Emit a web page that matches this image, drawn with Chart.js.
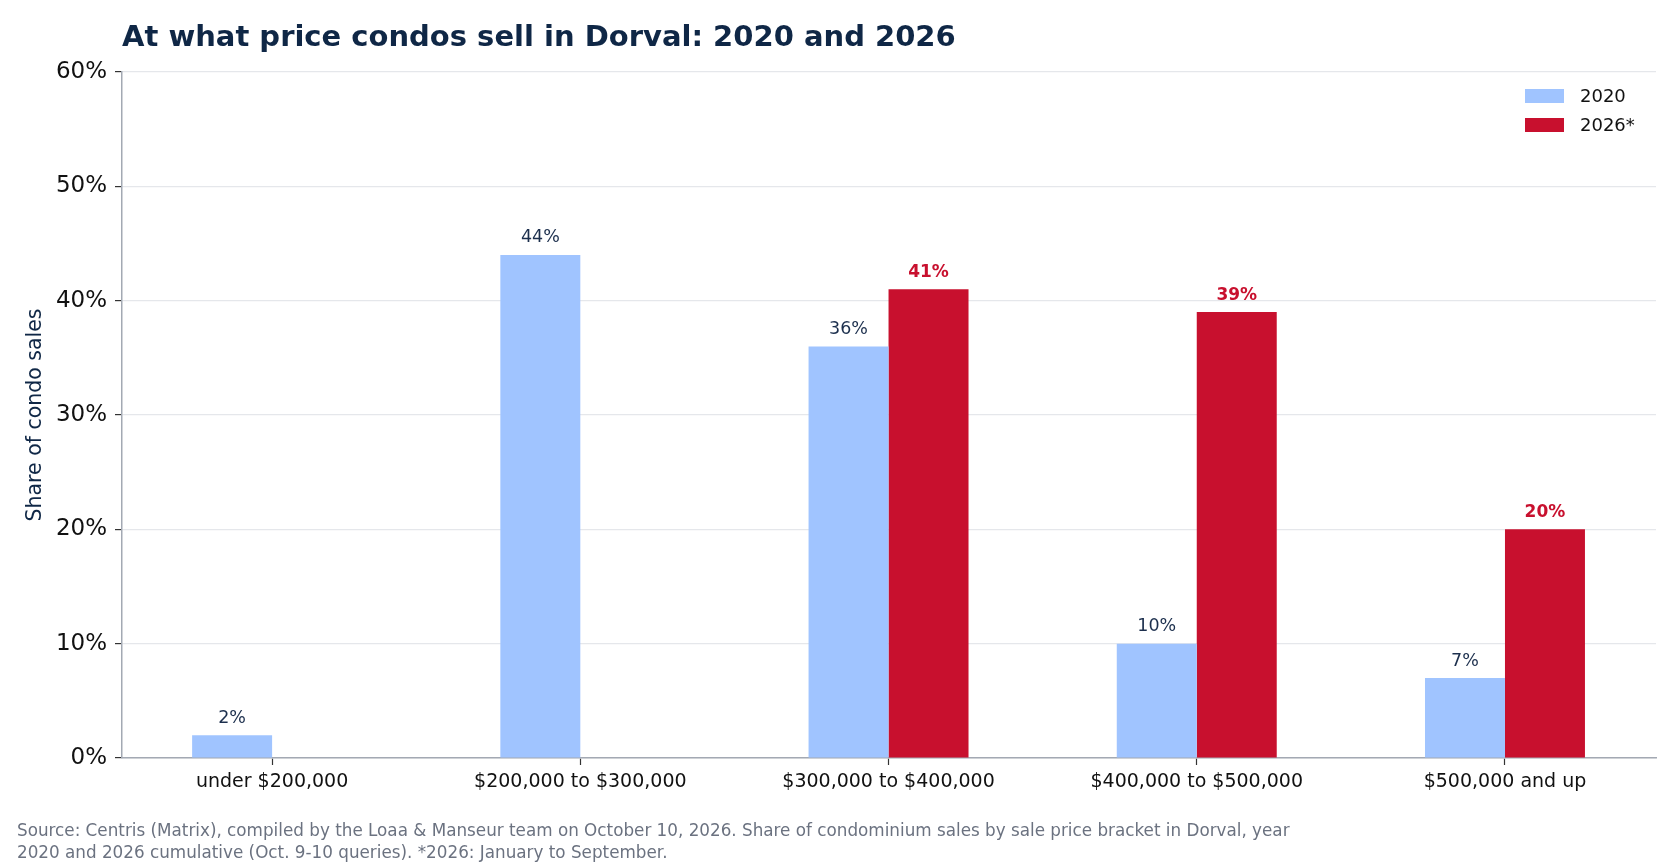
<!DOCTYPE html>
<html>
<head>
<meta charset="utf-8">
<script src="https://cdn.jsdelivr.net/npm/chart.js@4.4.1/dist/chart.umd.min.js"></script>
<style>
html,body{margin:0;padding:0;background:#fff;}
#wrap{width:1680px;height:868px;position:relative;}
</style>
</head>
<body>
<div id="wrap"><canvas id="c" width="1680" height="868"></canvas></div>
<script>
const categories = ["under $200,000", "$200,000 to $300,000", "$300,000 to $400,000", "$400,000 to $500,000", "$500,000 and up"];
const values2020 = [2, 44, 36, 10, 7];
const values2026 = [null, null, 41, 39, 20];
const seriesLabels = ["2020", "2026*"];
const yTicks = [0, 10, 20, 30, 40, 50, 60];
const titleText = "At what price condos sell in Dorval: 2020 and 2026";
const yTitle = "Share of condo sales";
const footerLines = [
  "Source: Centris (Matrix), compiled by the Loaa & Manseur team on October 10, 2026. Share of condominium sales by sale price bracket in Dorval, year",
  "2020 and 2026 cumulative (Oct. 9-10 queries). *2026: January to September."
];

const C2020 = "#a0c4ff";
const C2026 = "#c8102e";
const NAVY = "#0f2746";
const FONT = "'DejaVu Sans', sans-serif";

const toPoints = arr => arr.map((v, i) => ({ x: i, y: v }));

const decor = {
  id: "decor",
  afterDatasetsDraw(chart) {
    const ctx = chart.ctx;
    chart.data.datasets.forEach((ds, di) => {
      const meta = chart.getDatasetMeta(di);
      meta.data.forEach((bar, i) => {
        const v = ds.data[i].y;
        if (v === null || v === undefined) return;
        ctx.save();
        ctx.textAlign = "center";
        ctx.textBaseline = "middle";
        if (di === 0) { ctx.font = "17.5px " + FONT; ctx.fillStyle = "#1c2f4d"; }
        else { ctx.font = "bold 17px " + FONT; ctx.fillStyle = C2026; }
        ctx.fillText(v + "%", bar.x, bar.y - 17);
        ctx.restore();
      });
    });
    // legend
    ctx.save();
    const lx = 1525, ly = [96, 125];
    chart.data.datasets.forEach((ds, di) => {
      ctx.fillStyle = ds.backgroundColor;
      ctx.fillRect(lx, ly[di] - 7, 39, 14);
      ctx.fillStyle = "#111";
      ctx.font = "18px " + FONT;
      ctx.textAlign = "left";
      ctx.textBaseline = "middle";
      ctx.fillText(ds.label, 1580, ly[di] + 1);
    });
    ctx.restore();
  },
  afterDraw(chart) {
    const ctx = chart.ctx;
    const a = chart.chartArea;
    ctx.save();
    ctx.fillStyle = NAVY;
    ctx.font = "bold 29px " + FONT;
    ctx.textAlign = "left";
    ctx.textBaseline = "middle";
    ctx.fillText(titleText, 122, 38);
    // y title
    ctx.save();
    ctx.translate(36, (a.top + a.bottom) / 2);
    ctx.rotate(-Math.PI / 2);
    ctx.textAlign = "center";
    ctx.textBaseline = "middle";
    ctx.font = "20.5px " + FONT;
    ctx.fillStyle = NAVY;
    ctx.fillText(yTitle, 0, 0);
    ctx.restore();
    ctx.fillStyle = "#6b7280";
    ctx.font = "16.8px " + FONT;
    ctx.textAlign = "left";
    ctx.textBaseline = "middle";
    footerLines.forEach((t, i) => ctx.fillText(t, 17, 832 + i * 22));
    ctx.restore();
  }
};

new Chart(document.getElementById("c"), {
  type: "bar",
  data: {
    datasets: [
      { label: seriesLabels[0], data: toPoints(values2020), backgroundColor: C2020, categoryPercentage: 0.519, barPercentage: 1.0 },
      { label: seriesLabels[1], data: toPoints(values2026), backgroundColor: C2026, categoryPercentage: 0.519, barPercentage: 1.0 }
    ]
  },
  options: {
    responsive: false,
    animation: false,
    layout: { padding: { left: 0, right: 24, top: 72, bottom: 0 } },
    plugins: { legend: { display: false }, title: { display: false }, tooltip: { enabled: false } },
    scales: {
      x: {
        type: "linear",
        offset: false,
        min: -0.487,
        max: 4.49,
        afterBuildTicks(s) { s.ticks = categories.map((c, i) => ({ value: i })); },
        grid: { display: true, offset: false, drawOnChartArea: false, tickLength: 7, tickColor: "#333", tickWidth: 1.2 },
        border: { display: true, color: "#a3a9b3", width: 1.5 },
        ticks: { color: "#111", font: { family: FONT, size: 19 }, padding: 6, autoSkip: false, maxRotation: 0, callback: v => categories[v] ?? "" },
        afterFit(s) { s.height = 110; }
      },
      y: {
        min: 0, max: 60,
        afterBuildTicks(s) { s.ticks = yTicks.map(v => ({ value: v })); },
        grid: { color: "#e5e7eb", lineWidth: 1.2, tickLength: 7, tickColor: "#333", tickWidth: 1.2 },
        border: { display: true, color: "#a3a9b3", width: 1.5 },
        ticks: { color: "#111", font: { family: FONT, size: 23 }, padding: 8, callback: v => v + "%" },
        afterFit(s) { s.width = 122; }
      }
    }
  },
  plugins: [decor]
});
</script>
</body>
</html>
